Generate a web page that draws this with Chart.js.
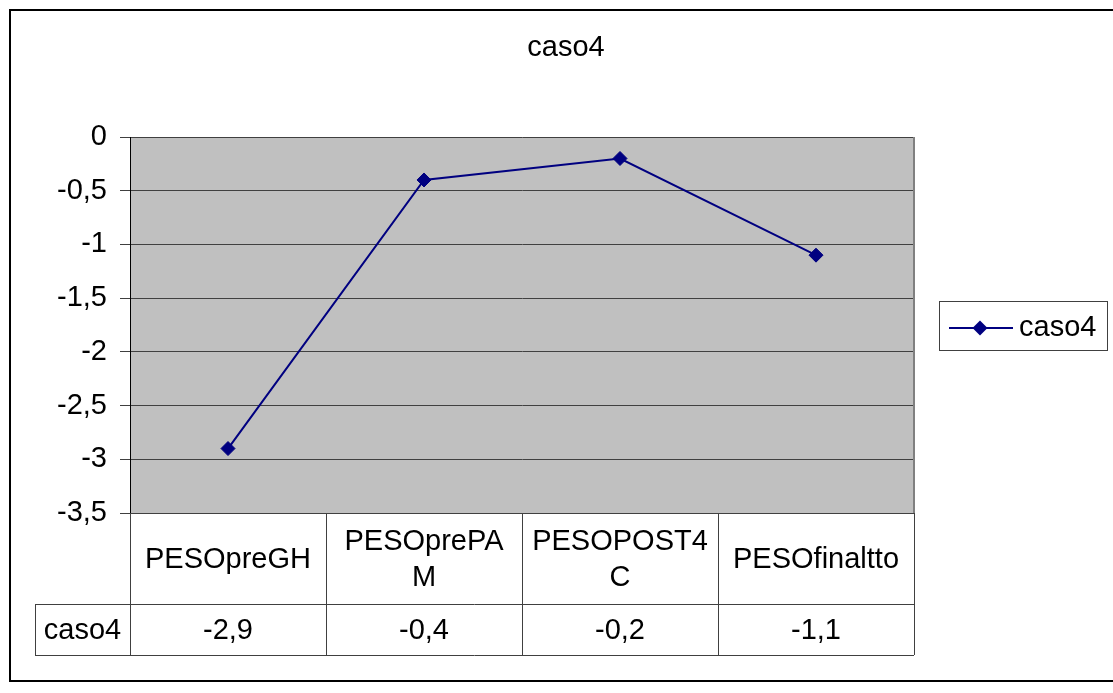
<!DOCTYPE html>
<html>
<head>
<meta charset="utf-8">
<title>caso4</title>
<script src="https://cdn.jsdelivr.net/npm/chart.js@4/dist/chart.umd.min.js"></script>
<style>
  html, body { margin: 0; padding: 0; background: #fff; }
  canvas { display: block; }
</style>
</head>
<body>
<canvas id="c" width="1113" height="693"></canvas>
<script>
// Series data
const categories = ['PESOpreGH', 'PESOprePAM', 'PESOPOST4C', 'PESOfinaltto'];
const seriesName = 'caso4';
const caso4 = [-2.9, -0.4, -0.2, -1.1];
const chartTitle = 'caso4';

const FONT = '"Liberation Sans", Arial, sans-serif';
const FONT_SIZE = 29;
const NAVY = '#000080';
const LINE_GREY = '#404040';

// Excel-style number formatting with decimal comma
function fmt(v) {
  return String(Math.round(v * 10) / 10).replace('.', ',');
}

// Break a label into lines by characters so it fits a cell width
function wrapChars(ctx, text, maxW) {
  const lines = [];
  let cur = '';
  for (const ch of text) {
    if (cur && ctx.measureText(cur + ch).width > maxW) {
      lines.push(cur);
      cur = ch;
    } else {
      cur += ch;
    }
  }
  if (cur) lines.push(cur);
  return lines;
}

const frame = {
  id: 'frame',
  beforeDraw(chart) {
    const { ctx, chartArea: a } = chart;
    ctx.save();
    ctx.fillStyle = '#fff';
    ctx.fillRect(0, 0, chart.width, chart.height);
    // plot background
    ctx.fillStyle = '#C0C0C0';
    ctx.fillRect(a.left, a.top, a.right - a.left, a.bottom - a.top);
    // outer chart border
    ctx.strokeStyle = '#000';
    ctx.lineWidth = 2;
    ctx.strokeRect(10, 10, 1200, 671);
    // title
    ctx.fillStyle = '#000';
    ctx.font = FONT_SIZE + 'px ' + FONT;
    ctx.textAlign = 'center';
    ctx.textBaseline = 'middle';
    ctx.fillText(chartTitle, 566, 48);
    ctx.restore();
  },
  beforeDatasetsDraw(chart) {
    const { ctx, chartArea: a } = chart;
    ctx.save();
    ctx.strokeStyle = '#808080';
    ctx.lineWidth = 2;
    ctx.beginPath();
    ctx.moveTo(a.right, a.top);
    ctx.lineTo(a.right, a.bottom);
    ctx.stroke();
    ctx.restore();
  },
  afterDraw(chart) {
    const { ctx, chartArea: a } = chart;
    const xs = chart.scales.x;
    const bw = (a.right - a.left) / categories.length;
    const row1Top = a.bottom;
    const row1Bot = row1Top + 91;
    const row2Bot = row1Bot + 51;
    const labelLeft = 35;

    ctx.save();
    ctx.strokeStyle = LINE_GREY;
    ctx.lineWidth = 1;
    ctx.beginPath();
    // column dividers
    for (let i = 0; i <= categories.length; i++) {
      const x = Math.round(a.left + i * bw) + 0.5;
      ctx.moveTo(x, row1Top);
      ctx.lineTo(x, row2Bot);
    }
    ctx.moveTo(labelLeft + 0.5, row1Bot);
    ctx.lineTo(labelLeft + 0.5, row2Bot);
    ctx.moveTo(labelLeft, row1Bot + 0.5);
    ctx.lineTo(a.right, row1Bot + 0.5);
    ctx.moveTo(labelLeft, row2Bot + 0.5);
    ctx.lineTo(a.right, row2Bot + 0.5);
    ctx.stroke();

    ctx.fillStyle = '#000';
    ctx.font = FONT_SIZE + 'px ' + FONT;
    ctx.textAlign = 'center';
    ctx.textBaseline = 'middle';
    const lineH = 36;
    categories.forEach((cat, i) => {
      const cx = xs.getPixelForValue(i);
      const lines = wrapChars(ctx, cat, bw - 18);
      const mid = (row1Top + row1Bot) / 2 + 1;
      lines.forEach((ln, k) => {
        const y = mid + (k - (lines.length - 1) / 2) * lineH;
        ctx.fillText(ln, cx, y);
      });
      ctx.fillText(fmt(caso4[i]), cx, (row1Bot + row2Bot) / 2 + 1);
    });
    ctx.fillText(seriesName, (labelLeft + a.left) / 2, (row1Bot + row2Bot) / 2 + 1);

    // legend
    const lx = 939, ly = 301, lw = 168, lh = 49;
    ctx.strokeStyle = LINE_GREY;
    ctx.strokeRect(lx + 0.5, ly + 0.5, lw, lh);
    const my = 328;
    ctx.strokeStyle = NAVY;
    ctx.lineWidth = 2;
    ctx.beginPath();
    ctx.moveTo(949, my);
    ctx.lineTo(1013, my);
    ctx.stroke();
    ctx.fillStyle = NAVY;
    ctx.beginPath();
    ctx.moveTo(980 - 7.5, my);
    ctx.lineTo(980, my - 7.5);
    ctx.lineTo(980 + 7.5, my);
    ctx.lineTo(980, my + 7.5);
    ctx.closePath();
    ctx.fill();
    ctx.fillStyle = '#000';
    ctx.textAlign = 'left';
    ctx.fillText(seriesName, 1019, my);
    ctx.restore();
  }
};

new Chart(document.getElementById('c'), {
  type: 'line',
  data: {
    labels: categories,
    datasets: [{
      label: seriesName,
      data: caso4,
      borderColor: NAVY,
      backgroundColor: NAVY,
      borderWidth: 2,
      pointStyle: 'rectRot',
      pointRadius: 7,
      pointBorderWidth: 1,
      pointBackgroundColor: NAVY,
      pointBorderColor: NAVY,
      tension: 0,
      fill: false
    }]
  },
  options: {
    responsive: false,
    animation: false,
    devicePixelRatio: 1,
    layout: { padding: { left: 0, top: 137, right: 199, bottom: 180 } },
    plugins: {
      legend: { display: false },
      tooltip: { enabled: false },
      title: { display: false }
    },
    scales: {
      x: {
        type: 'category',
        offset: true,
        grid: { display: false },
        border: { display: false },
        ticks: { display: false },
        afterFit(axis) { axis.height = 0; }
      },
      y: {
        min: -3.5,
        max: 0,
        afterFit(axis) { axis.width = 130; },
        ticks: {
          stepSize: 0.5,
          padding: 13,
          color: '#000',
          font: { family: FONT, size: FONT_SIZE },
          callback: (v) => fmt(v)
        },
        grid: { color: LINE_GREY, lineWidth: 1, tickLength: 10 },
        border: { display: true, color: '#000', width: 1 }
      }
    }
  },
  plugins: [frame]
});
</script>
</body>
</html>
